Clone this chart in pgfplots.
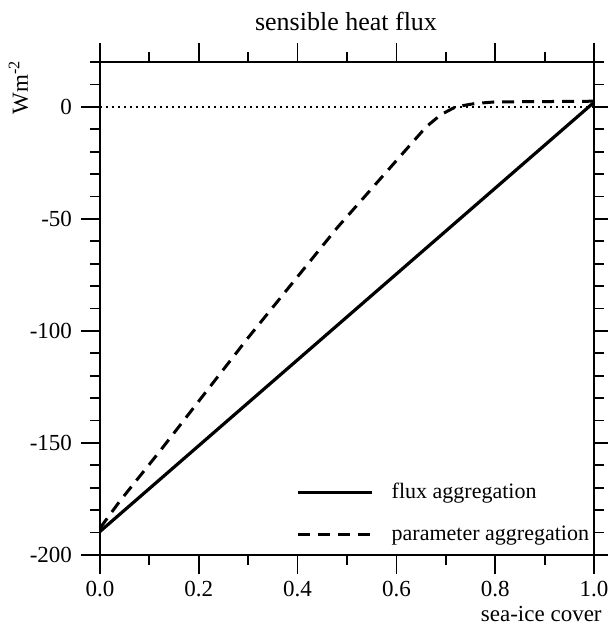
\documentclass[border=0pt]{standalone}
\usepackage{fontspec}
\setmainfont{Liberation Serif}
\usepackage{pgfplots}
\pgfplotsset{compat=1.18}

\begin{document}
\begin{tikzpicture}
\begin{axis}[
    at={(0,0)}, anchor=south west,
    scale only axis, width=247pt, height=246.5pt,
    xmin=0, xmax=1, ymin=-200, ymax=20,
    axis line style={line width=0.9pt},
    tick align=outside,
    major tick length=9.5pt, minor tick length=5pt,
    every tick/.style={black, line width=0.9pt},
    xtick={0,0.2,0.4,0.6,0.8,1.0},
    xticklabels={0.0,0.2,0.4,0.6,0.8,1.0},
    minor xtick={0.1,0.3,0.5,0.7,0.9},
    ytick={-200,-150,-100,-50,0},
    yticklabels={-200,-150,-100,-50,0},
    minor ytick={-190,-180,-170,-160,-140,-130,-120,-110,-90,-80,-70,-60,-40,-30,-20,-10,10,20},
    ticklabel style={font=\fontsize{11.5}{13}\selectfont},
    yticklabel style={xshift=-1pt},
    clip=false,
    legend style={draw=none, fill=none, inner sep=0pt,
        at={(rel axis cs:0.397,0.085)}, anchor=west,
        font=\fontsize{11}{13}\selectfont,
        row sep=8pt},
    legend cell align=left,
    legend image code/.code={\draw[#1] (0pt,0pt) -- (37pt,0pt);},
    /tikz/every odd column/.append style={column sep=7pt},
]
\addplot[black, line width=0.8pt, dash pattern=on 1pt off 2pt, forget plot]
    coordinates {(0,0) (1.015,0)};
\addplot[black, line width=1.6pt]
    coordinates {(0,-189.5) (1,2)};
\addlegendentry{flux aggregation}
\addplot[black, line width=1.5pt, dash pattern=on 6pt off 4pt]
    coordinates {(0,-188) (0.04,-176) (0.12,-154) (0.3,-103) (0.48,-54)
                 (0.66,-9) (0.69,-3.5) (0.72,0) (0.76,1.5) (0.8,2.2) (1,2.5)};
\addlegendentry{parameter aggregation}
\end{axis}
\node[anchor=base, inner sep=0pt, font=\fontsize{13}{15}\selectfont] at (123pt,262pt) {sensible heat flux};
\node[anchor=base, inner sep=0pt, rotate=90, font=\fontsize{11.5}{13}\selectfont] at (-36pt,234pt) {Wm\textsuperscript{-2}};
\node[anchor=base east, inner sep=0pt, font=\fontsize{11.5}{13}\selectfont] at (251pt,-33.5pt) {sea-ice cover};
\pgfresetboundingbox
\path[use as bounding box] (-50pt,-36pt) rectangle (254pt,277.5pt);
\end{tikzpicture}
\end{document}
